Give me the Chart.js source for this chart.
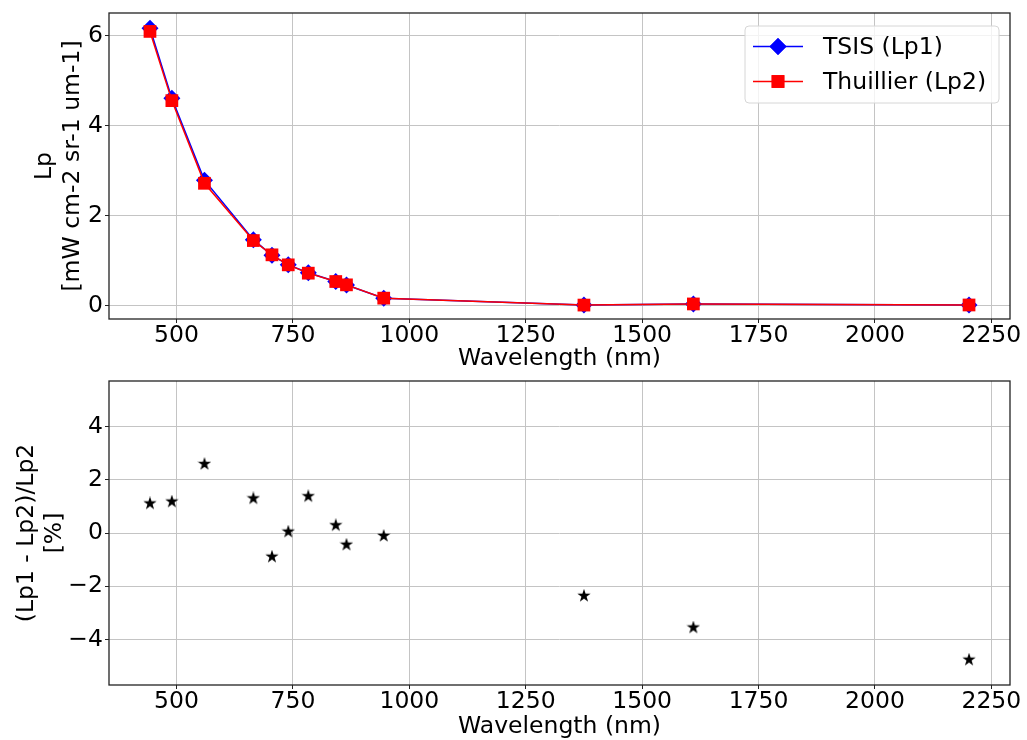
<!DOCTYPE html>
<html>
<head>
<meta charset="utf-8">
<title>Lp TSIS vs Thuillier</title>
<script src="https://cdn.jsdelivr.net/npm/chart.js@4.4.0/dist/chart.umd.min.js"></script>
<style>
html, body { margin: 0; padding: 0; background: #fff; }
#wrap { position: relative; width: 1027px; height: 740px; overflow: hidden; }
.panel { position: absolute; left: 0; width: 1027px; height: 372px; }
#topPanel { top: 0; }
#bottomPanel { top: 368px; }
</style>
</head>
<body>
<div id="wrap">
  <div class="panel" id="topPanel"><canvas id="lpChart" width="1027" height="372"></canvas></div>
  <div class="panel" id="bottomPanel"><canvas id="diffChart" width="1027" height="372"></canvas></div>
</div>
<script>
// Data
const wavelengths = [443, 490, 560, 665, 705, 740, 783, 842, 865, 945, 1375, 1610, 2202];
const lpTsis      = [6.17, 4.61, 2.79, 1.465, 1.118, 0.905, 0.73, 0.536, 0.458, 0.164, 0.0098, 0.034, 0.0114];
const lpThuillier = [6.10, 4.56, 2.72, 1.446, 1.128, 0.905, 0.72, 0.534, 0.460, 0.164, 0.0100, 0.035, 0.0120];
const diffPercent = [1.11, 1.18, 2.59, 1.30, -0.89, 0.05, 1.38, 0.29, -0.44, -0.11, -2.36, -3.55, -4.76];

const xTicks = [500, 750, 1000, 1250, 1500, 1750, 2000, 2250];
const lpTicks = [0, 2, 4, 6];
const diffTicks = [-4, -2, 0, 2, 4];

const FONT = 'DejaVu Sans';
const FS = 23.5;

// Plot area edges in page pixels
const plotLeft = 109;
const plotRight = 1010;

function fmt(v) {
  return v < 0 ? '\u2212' + Math.abs(v) : String(v);
}

// filled 5 point star, like matplotlib '*'
function makeStar(size) {
  const c = document.createElement('canvas');
  c.width = c.height = size;
  const g = c.getContext('2d');
  const cx = size / 2, cy = size / 2;
  const R = size / 2, r = R * 0.382;
  g.beginPath();
  for (let i = 0; i < 10; i++) {
    const a = -Math.PI / 2 + i * Math.PI / 5;
    const rad = i % 2 === 0 ? R : r;
    const px = cx + Math.cos(a) * rad, py = cy + Math.sin(a) * rad;
    if (i === 0) g.moveTo(px, py); else g.lineTo(px, py);
  }
  g.closePath();
  g.fillStyle = '#000';
  g.fill();
  return c;
}

// Box around the plot area (all four spines)
const frame = {
  id: 'frame',
  afterDraw(chart) {
    const a = chart.chartArea;
    const ctx = chart.ctx;
    ctx.save();
    ctx.strokeStyle = '#222';
    ctx.lineWidth = 1.3;
    ctx.strokeRect(a.left, a.top, a.right - a.left, a.bottom - a.top);
    ctx.restore();
  }
};

// matplotlib-like legend in the upper right corner
const lineLegend = {
  id: 'lineLegend',
  afterDraw(chart) {
    const a = chart.chartArea;
    const ctx = chart.ctx;
    const bx = a.right - 265, by = a.top + 13, bw = 254, bh = 77;
    ctx.save();
    ctx.beginPath();
    ctx.roundRect(bx, by, bw, bh, 4);
    ctx.fillStyle = 'rgba(255,255,255,0.8)';
    ctx.fill();
    ctx.strokeStyle = '#d6d6d6';
    ctx.lineWidth = 1;
    ctx.stroke();
    const sets = [chart.data.datasets[0], chart.data.datasets[1]];
    sets.forEach((ds, i) => {
      const y = by + 20.5 + i * 35;
      ctx.strokeStyle = ds.borderColor;
      ctx.lineWidth = 1.5;
      ctx.beginPath();
      ctx.moveTo(bx + 8, y);
      ctx.lineTo(bx + 58, y);
      ctx.stroke();
      ctx.fillStyle = ds.backgroundColor;
      Chart.helpers.drawPoint(ctx, {pointStyle: ds.pointStyle, radius: ds.pointRadius, borderWidth: 0, rotation: 0}, bx + 33, y);
      ctx.fill();
      ctx.fillStyle = '#000';
      ctx.font = FS + 'px "' + FONT + '"';
      ctx.textBaseline = 'middle';
      ctx.textAlign = 'left';
      ctx.fillText(ds.label, bx + 78, y + 1);
    });
    ctx.restore();
  }
};

function xScale(height) {
  return {
    type: 'linear',
    min: 355,
    max: 2290,
    afterBuildTicks: s => { s.ticks = xTicks.map(v => ({value: v})); },
    afterFit: s => { s.height = height; s.paddingLeft = 0; s.paddingRight = 0; },
    grid: { color: '#c4c4c4', lineWidth: 1, tickLength: 4, tickColor: '#222' },
    border: { display: false },
    ticks: { color: '#000', padding: 1, font: { family: FONT, size: FS, lineHeight: 1 }, callback: v => fmt(v) },
    title: { display: true, text: 'Wavelength (nm)', color: '#000', font: { family: FONT, size: FS, lineHeight: 1 }, padding: { top: 0, bottom: 1 } }
  };
}

function yScale(min, max, ticks, title, titlePad) {
  return {
    type: 'linear',
    min: min,
    max: max,
    afterBuildTicks: s => { s.ticks = ticks.map(v => ({value: v})); },
    afterFit: s => { s.width = plotLeft; s.paddingTop = 0; s.paddingBottom = 0; },
    grid: { color: '#c4c4c4', lineWidth: 1, tickLength: 4, tickColor: '#222' },
    border: { display: false },
    ticks: { color: '#000', padding: 2, font: { family: FONT, size: FS }, callback: v => fmt(v) },
    title: { display: true, text: title, color: '#000', font: { family: FONT, size: FS, lineHeight: 1.2 }, padding: { top: titlePad, bottom: 0 } }
  };
}

const lpChart = new Chart(document.getElementById('lpChart'), {
  type: 'line',
  data: {
    datasets: [
      {
        label: 'TSIS (Lp1)',
        data: wavelengths.map((w, i) => ({x: w, y: lpTsis[i]})),
        borderColor: '#0000ff',
        backgroundColor: '#0000ff',
        borderWidth: 1.5,
        pointStyle: 'rectRot',
        pointRadius: 8.5,
        pointBorderWidth: 0,
        tension: 0,
        order: 2
      },
      {
        label: 'Thuillier (Lp2)',
        data: wavelengths.map((w, i) => ({x: w, y: lpThuillier[i]})),
        borderColor: '#ff0000',
        backgroundColor: '#ff0000',
        borderWidth: 1.5,
        pointStyle: 'rect',
        pointRadius: 9,
        pointBorderWidth: 0,
        tension: 0,
        order: 1
      }
    ]
  },
  options: {
    responsive: false,
    animation: false,
    layout: { padding: { left: 0, right: 1027 - plotRight, top: 13, bottom: 0 } },
    plugins: { legend: { display: false }, tooltip: { enabled: false } },
    scales: {
      x: xScale(372 - 319),
      y: yScale(-0.30, 6.51, lpTicks, ['Lp', '[mW cm-2 sr-1 um-1]'], 31)
    }
  },
  plugins: [frame, lineLegend]
});

const diffChart = new Chart(document.getElementById('diffChart'), {
  type: 'scatter',
  data: {
    datasets: [{
      label: 'diff',
      data: wavelengths.map((w, i) => ({x: w, y: diffPercent[i]})),
      pointStyle: makeStar(14),
      pointRadius: 7,
      showLine: false
    }]
  },
  options: {
    responsive: false,
    animation: false,
    layout: { padding: { left: 0, right: 1027 - plotRight, top: 13, bottom: 0 } },
    plugins: { legend: { display: false }, tooltip: { enabled: false } },
    scales: {
      x: xScale(372 - (685 - 368)),
      y: yScale(-5.71, 5.71, diffTicks, ['(Lp1 - Lp2)/Lp2', '[%]'], 13)
    }
  },
  plugins: [frame]
});
</script>
</body>
</html>
